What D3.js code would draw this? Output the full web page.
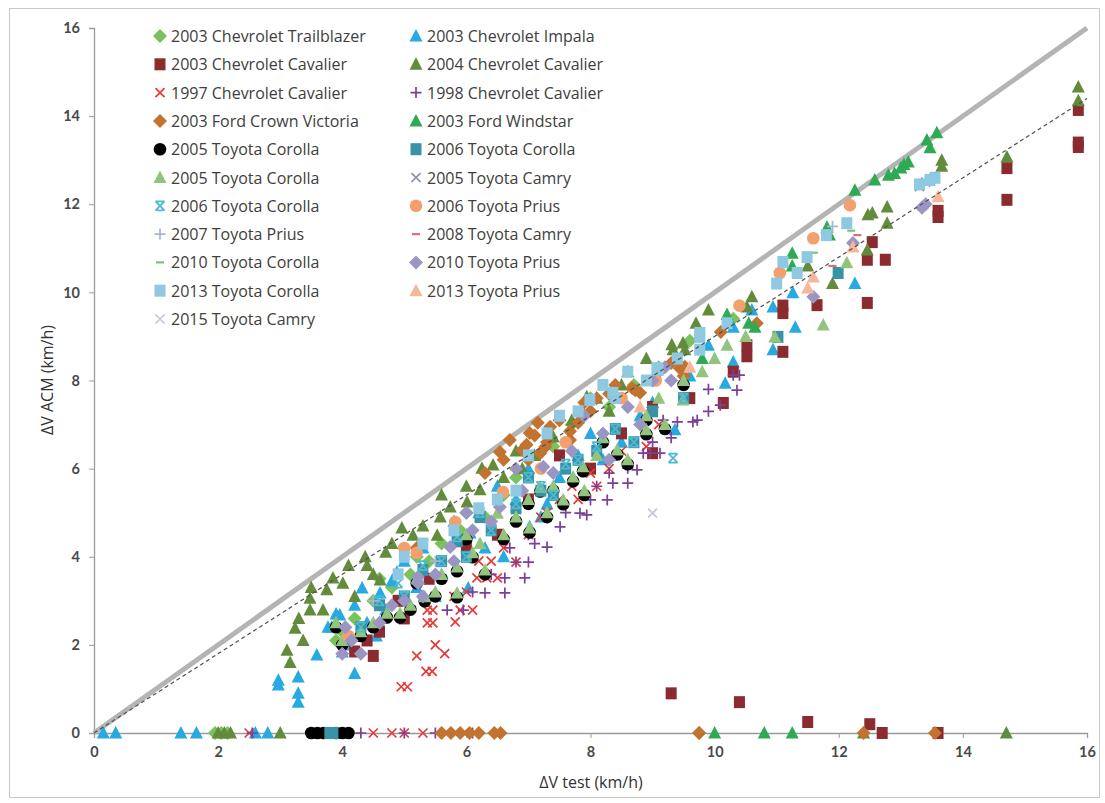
<!DOCTYPE html>
<html>
<head>
<meta charset="utf-8">
<script src="https://cdn.jsdelivr.net/npm/d3@7"></script>
<style>
  body { margin: 0; background: #fff; }
  text { font-family: "Open Sans", Lato, sans-serif; }
</style>
</head>
<body>
<div id="chart-wrapper"></div>
<script>
// ---- data: [ΔV test, ΔV ACM] ----
var seriesNames = [
  "2003 Chevrolet Trailblazer", "2003 Chevrolet Impala",
  "2003 Chevrolet Cavalier", "2004 Chevrolet Cavalier",
  "1997 Chevrolet Cavalier", "1998 Chevrolet Cavalier",
  "2003 Ford Crown Victoria", "2003 Ford Windstar",
  "2005 Toyota Corolla", "2006 Toyota Corolla",
  "2005 Toyota Corolla", "2005 Toyota Camry",
  "2006 Toyota Corolla", "2006 Toyota Prius",
  "2007 Toyota Prius", "2008 Toyota Camry",
  "2010 Toyota Corolla", "2010 Toyota Prius",
  "2013 Toyota Corolla", "2013 Toyota Prius",
  "2015 Toyota Camry"
];

var trailblazer03 = [[1.95,0],[2.05,0],[2.15,0],[9.75,0],[3.9,2.1],[4.0,2.3],[4.2,2.6],[4.5,3.0],[4.6,3.5],
  [4.8,3.3],[5.1,3.6],[5.2,4.0],[5.4,3.9],[5.6,4.3],[5.9,4.6],[6.0,5.0],[6.3,4.9],[6.6,5.4],[6.8,5.8],
  [7.0,5.9],[7.4,6.5],[7.7,7.0],[8.0,7.6],[8.3,7.4],[8.7,7.9],[9.1,8.3],[9.6,8.9],[10.3,9.4]];
var impala03 = [[0.15,0],[0.35,0],[1.4,0],[1.65,0],[2.6,0],[2.8,0],[2.97,1.09],[2.97,1.2],[3.29,1.27],
  [3.29,0.9],[3.29,0.7],[3.59,1.77],[3.77,2.4],[4.0,1.84],[3.96,2.68],[4.2,1.35],[4.1,2.0],[4.32,3.29],
  [4.2,2.9],[4.4,2.5],[4.7,2.8],[3.83,2.4],[3.9,2.7],[4.55,2.2],[4.61,3.18],[4.8,3.45],[4.88,3.65],
  [5.0,3.9],[5.3,4.2],[5.6,3.6],[5.8,4.8],[5.2,3.3],[5.5,3.1],[6.03,3.29],[6.06,4.54],[6.2,5.0],[6.3,4.2],
  [6.5,5.6],[6.6,4.0],[7.0,6.0],[7.2,4.9],[7.02,4.68],[6.8,5.3],[7.3,5.2],[7.5,5.8],[7.8,6.3],[8.0,6.8],
  [8.2,6.2],[8.5,6.6],[8.8,7.2],[9.36,6.88],[9.0,7.5],[9.6,8.1],[9.9,8.8],[10.17,7.94],[10.3,8.42],
  [10.3,9.21],[10.6,9.6],[10.94,8.7],[10.94,9.67],[11.3,9.21],[11.26,9.99],[12.26,10.2]];
var cavalier03 = [[12.7,0],[13.6,0],[9.3,0.9],[10.4,0.7],[11.5,0.25],[12.5,0.2],[4.2,1.85],[4.5,1.75],
  [4.4,2.1],[4.6,2.3],[5.0,2.6],[4.9,3.0],[5.4,3.5],[6.0,4.2],[6.5,4.5],[7.0,5.3],[7.5,6.3],[8.0,6.0],
  [8.5,6.8],[9.0,6.35],[9.0,7.4],[9.6,7.6],[10.14,7.49],[10.3,8.2],[10.52,8.55],[10.52,8.8],
  [11.1,8.65],[11.1,9.53],[11.1,9.7],[11.65,9.71],[12.46,9.76],[12.46,10.74],[12.54,11.14],
  [12.75,10.74],[13.6,11.71],[13.6,11.85],[14.71,12.1],[14.71,12.82],[15.86,13.3],[15.86,13.4],
  [15.86,14.14]];
var cavalier04 = [[2.0,0],[2.1,0],[2.2,0],[3.0,0],[12.4,0],[14.7,0],[3.11,1.88],[3.16,1.6],[3.24,2.38],
  [3.3,2.6],[3.37,2.1],[3.48,3.06],[3.48,2.79],[3.5,3.3],[3.69,2.79],[3.85,3.52],[3.75,3.25],[4.01,3.4],
  [4.1,3.8],[4.2,3.1],[4.37,4.0],[4.4,3.8],[4.5,3.6],[4.61,3.47],[4.7,4.1],[4.8,4.3],[4.96,4.65],
  [5.14,4.49],[5.3,4.7],[5.53,4.49],[5.58,4.9],[5.6,5.4],[5.74,5.13],[6.0,5.6],[6.01,5.24],[6.22,5.52],
  [6.25,6.01],[6.43,6.08],[6.6,5.8],[6.8,6.4],[6.9,6.0],[7.1,6.3],[7.4,6.72],[7.7,7.1],[7.94,7.63],
  [8.1,7.6],[8.3,7.3],[8.5,7.9],[8.6,8.2],[8.9,8.5],[9.31,8.81],[9.49,8.85],[9.33,8.7],[9.52,8.7],
  [9.7,9.3],[9.9,9.6],[10.52,9.67],[10.6,9.9],[11.5,10.6],[11.9,10.2],[12.47,11.76],[12.54,11.8],
  [12.78,11.94],[12.78,11.57],[12.46,10.96],[13.66,13.0],[13.66,12.86],[14.71,13.07],[15.86,14.66],
  [15.86,14.35]];
var cavalier97 = [[2.5,0],[4.5,0],[4.8,0],[5.0,0],[5.3,0],[4.95,1.05],[5.05,1.05],[5.2,1.75],[5.35,1.4],
  [5.45,1.4],[5.65,1.8],[5.5,2.0],[5.37,2.5],[5.46,2.5],[5.82,2.52],[5.37,2.79],[5.46,2.79],[5.9,2.79],
  [6.1,2.79],[5.8,3.1],[6.0,3.2],[6.17,3.52],[6.33,3.52],[6.5,3.52],[6.2,3.9],[6.4,3.9],[6.8,3.88],
  [6.6,4.2],[7.0,4.5],[7.2,4.9],[7.3,5.0],[7.5,5.3],[7.8,5.3],[7.7,5.6],[8.1,5.6],[8.0,5.9],[8.3,6.0],
  [8.5,6.4],[8.9,6.5],[9.1,7.0]];
var cavalier98 = [[2.55,0],[4.3,0],[5.0,0],[5.5,0],[6.1,0],[5.69,2.79],[5.95,2.79],[6.1,3.2],[6.3,3.18],
  [6.62,3.18],[6.4,3.6],[6.62,3.52],[6.94,3.52],[6.8,3.88],[7.0,3.88],[6.7,4.2],[7.1,4.3],[7.3,4.22],
  [7.0,4.5],[7.3,4.9],[7.51,4.68],[7.6,5.0],[7.83,4.99],[7.94,4.95],[8.0,5.29],[8.27,5.29],[8.1,5.6],
  [8.36,5.67],[8.6,5.67],[8.3,5.9],[8.6,6.01],[8.75,5.97],[8.85,6.35],[9.12,6.35],[8.96,6.35],[9.0,6.6],
  [9.3,6.7],[9.17,7.1],[9.4,7.06],[9.65,7.06],[9.72,7.1],[9.9,7.3],[10.09,7.44],[9.9,7.8],[10.36,7.78],
  [10.3,8.12],[10.4,8.12]];
var crownVic03 = [[5.6,0],[5.75,0],[5.9,0],[6.05,0],[6.2,0],[6.45,0],[6.55,0],[9.75,0],[12.4,0],[13.55,0],
  [5.2,4.2],[6.3,5.9],[6.54,6.38],[6.6,6.2],[6.7,6.65],[6.9,6.42],[7.02,6.81],[7.1,6.75],[7.15,7.04],
  [6.97,6.54],[7.27,6.49],[7.3,6.6],[7.35,6.95],[7.5,7.1],[7.19,6.35],[7.0,6.2],[7.67,6.65],[7.8,7.04],
  [7.67,6.85],[7.9,7.5],[8.0,7.3],[8.1,7.6],[8.3,7.7],[8.4,7.9],[8.67,7.83],[8.8,7.72],[8.72,7.78],
  [9.1,8.2],[9.3,8.4],[9.44,8.28],[9.5,8.1],[9.52,8.31],[10.1,9.1],[10.68,9.3]];
var windstar03 = [[10.0,0],[10.8,0],[11.25,0],[9.8,8.5],[10.2,9.5],[10.65,9.21],[10.55,9.3],[11.25,10.89],
  [11.25,10.6],[11.81,11.48],[11.85,11.3],[12.26,12.32],[12.58,12.55],[12.8,12.66],[12.9,12.7],
  [13.0,12.82],[13.05,12.9],[13.12,12.96],[13.47,13.28],[13.42,13.46],[13.58,13.62]];
var corolla05circle = [[3.5,0],[3.6,0],[3.7,0],[3.9,0],[4.0,0],[4.1,0],[4.0,2.0],[3.9,2.4],[4.3,2.2],
  [4.5,2.4],[4.72,2.62],[4.93,2.62],[5.1,2.8],[5.2,3.4],[5.33,2.99],[5.5,3.1],[5.6,3.5],[5.85,3.08],
  [5.85,3.67],[6.0,4.4],[6.1,3.99],[6.3,3.6],[6.6,4.4],[6.8,4.8],[7.02,4.55],[7.0,5.2],[7.19,5.48],
  [7.3,4.9],[7.4,5.5],[7.56,5.19],[7.72,5.71],[7.88,5.94],[7.9,5.4],[8.2,6.6],[8.43,6.32],[8.6,6.1],
  [8.9,6.78],[8.9,7.1],[9.2,6.9],[9.5,7.9]];
var corolla06square = [[3.8,0],[3.85,0],[4.3,2.4],[4.6,2.9],[5.0,3.1],[5.3,3.7],[5.6,3.9],[5.85,4.35],
  [6.0,4.0],[6.22,4.9],[6.4,4.6],[6.8,5.1],[7.0,5.8],[7.2,5.5],[7.4,5.4],[7.6,6.0],[7.8,6.2],[8.1,6.4],
  [8.4,6.9],[8.7,6.6],[9.0,7.3],[9.5,7.6],[11.02,8.99],[11.99,10.44]];
var corolla05tri = [[4.0,2.1],[3.9,2.5],[4.3,2.3],[4.5,2.5],[4.72,2.72],[4.93,2.72],[5.1,2.9],[5.2,3.5],
  [5.33,3.09],[5.5,3.2],[5.6,3.6],[5.85,3.18],[5.85,3.77],[6.0,4.5],[6.1,4.09],[6.22,4.3],[6.3,3.7],
  [6.5,4.99],[6.6,4.5],[6.8,4.9],[7.02,4.65],[7.0,5.3],[7.3,5.0],[7.19,5.58],[7.4,5.6],[7.56,5.29],
  [7.72,5.81],[7.88,6.04],[7.9,5.5],[8.1,6.3],[8.2,6.7],[8.43,6.42],[8.6,6.2],[8.9,6.88],[8.9,7.2],
  [9.2,7.0],[9.1,7.6],[9.49,7.56],[9.5,8.0],[9.8,8.2],[10.0,8.5],[10.2,8.8],[10.5,9.0],[10.97,8.99],
  [11.75,9.26],[12.13,10.67]];
var camry05 = [[13.3,12.4],[13.4,12.5]];
var corolla06star = [[4.3,2.4],[4.6,3.0],[4.9,3.4],[5.0,3.1],[5.3,3.8],[5.6,3.9],[5.85,4.45],[6.0,4.0],
  [6.22,5.0],[6.4,4.6],[6.8,5.2],[7.0,5.8],[7.2,5.6],[7.4,5.4],[7.6,6.1],[7.8,6.2],[8.1,6.5],[8.4,6.9],
  [8.7,6.6],[9.5,7.6],[9.33,6.24]];
var prius06 = [[4.1,2.2],[5.0,4.2],[5.2,4.09],[5.82,4.79],[6.59,5.47],[7.2,6.0],[7.6,6.6],[8.5,7.6],
  [9.05,8.0],[10.4,9.7],[11.05,10.44],[11.59,11.23],[12.18,11.98]];
var prius07 = [[4.5,3.0],[5.5,3.9],[11.9,11.5]];
var camry08 = [[11.9,10.6],[12.3,11.3],[13.5,12.5]];
var corolla10 = [[11.6,10.9],[12.2,11.4]];
var prius10 = [[4.0,1.8],[4.05,2.4],[4.15,2.1],[4.3,1.8],[4.6,2.5],[4.8,2.9],[5.0,3.0],[5.22,3.54],
  [5.22,3.4],[5.3,3.1],[5.5,3.6],[5.74,4.22],[5.8,3.9],[6.0,5.0],[6.1,4.6],[6.4,4.8],[6.54,5.13],
  [6.8,6.0],[6.9,5.5],[7.24,6.04],[7.4,5.9],[7.7,6.4],[7.9,7.2],[8.2,6.8],[8.3,6.2],[8.6,7.4],[8.8,7.0],
  [9.0,8.0],[9.2,8.3],[9.3,8.0],[11.59,9.9],[12.23,11.12],[13.34,11.92],[13.4,12.0]];
var corolla13 = [[4.9,3.6],[5.0,4.0],[5.3,4.3],[5.8,4.6],[6.2,5.1],[6.5,5.3],[6.8,5.5],[7.0,6.3],[7.3,6.8],
  [7.5,7.2],[7.8,7.3],[7.99,7.56],[8.2,7.9],[8.36,7.72],[8.4,7.6],[8.6,8.2],[8.9,8.0],[9.07,8.28],
  [9.09,8.24],[9.4,8.5],[9.76,9.08],[9.76,8.99],[9.76,8.7],[10.2,9.3],[11.0,10.2],[11.1,10.69],
  [11.33,10.44],[11.49,10.8],[11.8,11.3],[12.13,11.57],[13.3,12.45],[13.47,12.55],[13.55,12.6]];
var prius13 = [[8.8,7.4],[9.6,8.3],[11.5,10.1],[11.59,10.35],[12.23,11.03],[13.6,12.17]];
var camry15 = [[9.0,4.99]];

var xTicks = [0, 2, 4, 6, 8, 10, 12, 14, 16];
var yTicks = [0, 2, 4, 6, 8, 10, 12, 14, 16];
var xTitle = "ΔV test (km/h)", yTitle = "ΔV ACM (km/h)";

// ---- styles ----
var allData = [trailblazer03, impala03, cavalier03, cavalier04, cavalier97, cavalier98, crownVic03,
  windstar03, corolla05circle, corolla06square, corolla05tri, camry05, corolla06star, prius06, prius07,
  camry08, corolla10, prius10, corolla13, prius13, camry15];
var colors = ["#7ac35c", "#27a9e1", "#8b2b2f", "#628c3c", "#e6393a", "#7b3f99", "#c1732f", "#2eaa52",
  "#000000", "#3a92a7", "#93c47d", "#8c89a8", "#4cbad2", "#f2a06e", "#a8b6cf", "#d9716f", "#78c27a",
  "#9b95c3", "#8fc9e1", "#f4b79a", "#c6c7d8"];
var shapes = ["diamond", "triangle", "square", "triangle", "x", "plus", "diamond", "triangle", "circle",
  "square", "triangle", "x", "star", "circle", "plus", "dash", "dash", "diamond", "square", "triangle", "x"];

function shapePath(s) {
  switch (s) {
    case "diamond": return "M0,-7L7,0L0,7L-7,0Z";
    case "triangle": return "M0,-7L6.5,5.5L-6.5,5.5Z";
    case "square": return "M-5.5,-6H5.5V6H-5.5Z";
    case "circle": return "M6.3,0A6.3,6.3 0 1,1 -6.3,0A6.3,6.3 0 1,1 6.3,0Z";
    case "x": return "M-4.5,-4.5L4.5,4.5M-4.5,4.5L4.5,-4.5";
    case "plus": return "M-5.5,0H5.5M0,-5.5V5.5";
    case "dash": return "M-4,0H4";
    case "star": return "M-4.5,-4.5L4.5,4.5M-4.5,4.5L4.5,-4.5M-4.5,-4.5H4.5M-4.5,4.5H4.5";
  }
}
var stroked = {x: true, plus: true, dash: true, star: true};

var W = 1105, H = 803;
var margin = {top: 28, right: 18, bottom: 70, left: 94};
var width = 1087 - margin.left, height = 733 - margin.top;

var svg = d3.select("#chart-wrapper").append("svg")
  .attr("width", W).attr("height", H);

svg.append("rect").attr("x", 9.5).attr("y", 8.5).attr("width", 1090).attr("height", 789)
  .attr("fill", "none").attr("stroke", "#c8c8c8");

var g = svg.append("g").attr("transform", `translate(${margin.left},${margin.top})`);

var x = d3.scaleLinear().domain([0, 16]).range([0, width]);
var y = d3.scaleLinear().domain([0, 16]).range([height, 0]);

// axes
var xAxis = g.append("g").attr("transform", `translate(0,${height})`)
  .call(d3.axisBottom(x).tickValues(xTicks).tickSize(5).tickPadding(9));
var yAxis = g.append("g")
  .call(d3.axisLeft(y).tickValues(yTicks).tickSize(5).tickPadding(9));
[xAxis, yAxis].forEach(function (a) {
  a.select(".domain").attr("stroke", "#9a9a9a").attr("stroke-width", 1.3);
  a.selectAll(".tick line").attr("stroke", "#9a9a9a");
  a.selectAll(".tick text").attr("fill", "#4a4a4a").style("font-size", "14.5px")
    .style("font-family", "Lato, sans-serif").style("font-weight", "bold");
});

// reference line y = x
g.append("line").attr("x1", x(0)).attr("y1", y(0)).attr("x2", x(16)).attr("y2", y(16))
  .attr("stroke", "#b4b4b4").attr("stroke-width", 5);

// series
allData.forEach(function (d, i) {
  var s = shapes[i];
  g.append("g").selectAll("path").data(d).enter().append("path")
    .attr("transform", p => `translate(${x(p[0])},${y(p[1])})`)
    .attr("d", shapePath(s))
    .attr("fill", stroked[s] ? "none" : colors[i])
    .attr("stroke", stroked[s] ? colors[i] : "none")
    .attr("stroke-width", s === "dash" ? 2.2 : 1.7);
});

// fitted trend line
g.append("line").attr("x1", x(0)).attr("y1", y(0)).attr("x2", x(16)).attr("y2", y(14.4))
  .attr("stroke", "#505050").attr("stroke-width", 1.2).attr("stroke-dasharray", "4,3");

// axis titles
svg.append("text").attr("x", 591).attr("y", 788).attr("text-anchor", "middle")
  .attr("fill", "#333").style("font-size", "16px").text(xTitle);
svg.append("text").attr("transform", "translate(53,380) rotate(-90)").attr("text-anchor", "middle")
  .attr("fill", "#333").style("font-size", "16px").text(yTitle);

// legend
var legend = svg.append("g");
seriesNames.forEach(function (name, i) {
  var col = i % 2, row = Math.floor(i / 2);
  var lx = col === 0 ? 160 : 416, ly = 36 + row * 28.3;
  var s = shapes[i];
  legend.append("path").attr("transform", `translate(${lx},${ly})`)
    .attr("d", shapePath(s))
    .attr("fill", stroked[s] ? "none" : colors[i])
    .attr("stroke", stroked[s] ? colors[i] : "none")
    .attr("stroke-width", s === "dash" ? 2.2 : 1.7);
  legend.append("text").attr("x", lx + 11).attr("y", ly + 6)
    .attr("fill", "#404040").style("font-size", "16px").text(name);
});
</script>
</body>
</html>
